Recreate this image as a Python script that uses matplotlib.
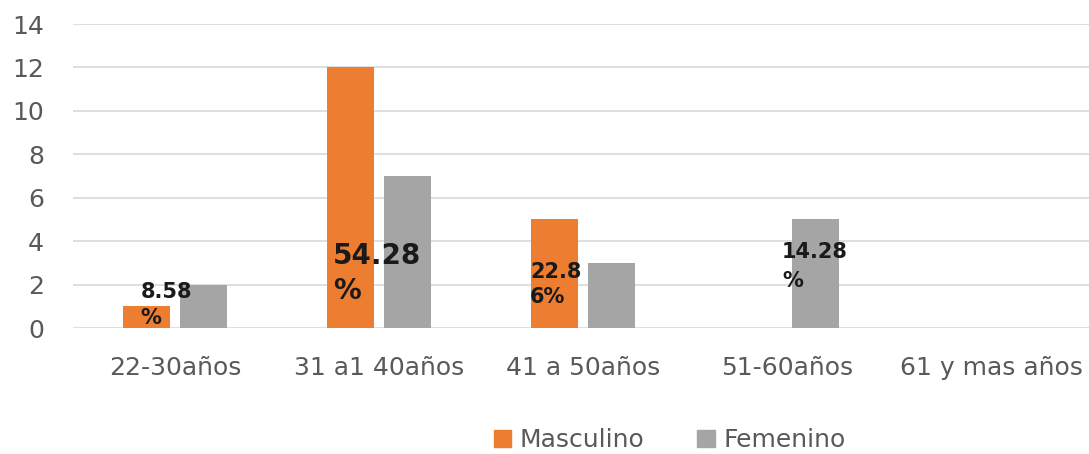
import matplotlib
matplotlib.use("Agg")
import matplotlib.pyplot as plt
import numpy as np
from matplotlib.patches import Patch

categories = ["22-30años", "31 a1 40años", "41 a 50años", "51-60años", "61 y mas años"]
masculino = [1, 12, 5, 0, 0]
femenino = [2, 7, 3, 5, 0]
pct_labels = ["8.58\n%", "54.28\n%", "22.8\n6%", "14.28\n%"]
pct_groups = [0, 1, 2, 3]
pct_dx = [-0.17, -0.225, -0.26, -0.025]
pct_y = [1.06, 2.51, 2.0, 2.83]
pct_sizes = [15, 20, 15, 15]
pct_spacing = [1.35, 1.35, 1.35, 1.6]

orange = "#ED7D31"
gray = "#A5A5A5"
txt = "#595959"

plt.rcParams['font.family'] = ['DejaVu Sans']

fig = plt.figure(figsize=(10.89, 4.54), dpi=100)
ax = fig.add_axes([0.067, 0.2775, 0.937, 0.6695])

x = np.arange(len(categories))
w = 0.23
ax.bar(x - 0.14, masculino, w, color=orange, zorder=3)
ax.bar(x + 0.14, femenino, w, color=gray, zorder=3)

for g, dx, py, lab, fs, ls in zip(pct_groups, pct_dx, pct_y, pct_labels, pct_sizes, pct_spacing):
    ax.text(g + dx, py, lab, fontsize=fs, fontweight='bold', color='#1a1a1a',
            ha='left', va='center', linespacing=ls, zorder=4)

ax.set_xlim(-0.5, 4.5)
ax.set_ylim(0, 14)
ax.set_yticks(np.arange(0, 15, 2))
ax.set_xticks(x)
ax.set_xticklabels(categories)
ax.tick_params(axis='both', length=0, labelsize=18, colors=txt)
ax.tick_params(axis='y', pad=21)
ax.tick_params(axis='x', pad=20)
ax.grid(axis='y', color='#D9D9D9', linewidth=1.2, zorder=0)
for s in ax.spines.values():
    s.set_visible(False)

# title cut off at the top of the picture
fig.text(0.545, 1.035, "p", fontsize=18, fontweight='bold', color='#333333',
         ha='center', va='center')

handles = [Patch(color=orange, label="Masculino"), Patch(color=gray, label="Femenino")]
fig.legend(handles=handles, loc='center', bbox_to_anchor=(0.615, 0.03), ncol=2,
           frameon=False, fontsize=18, handlelength=0.7, handleheight=0.7,
           handletextpad=0.35, columnspacing=2.1, labelcolor=txt)

fig.savefig("out.png", dpi=100)
